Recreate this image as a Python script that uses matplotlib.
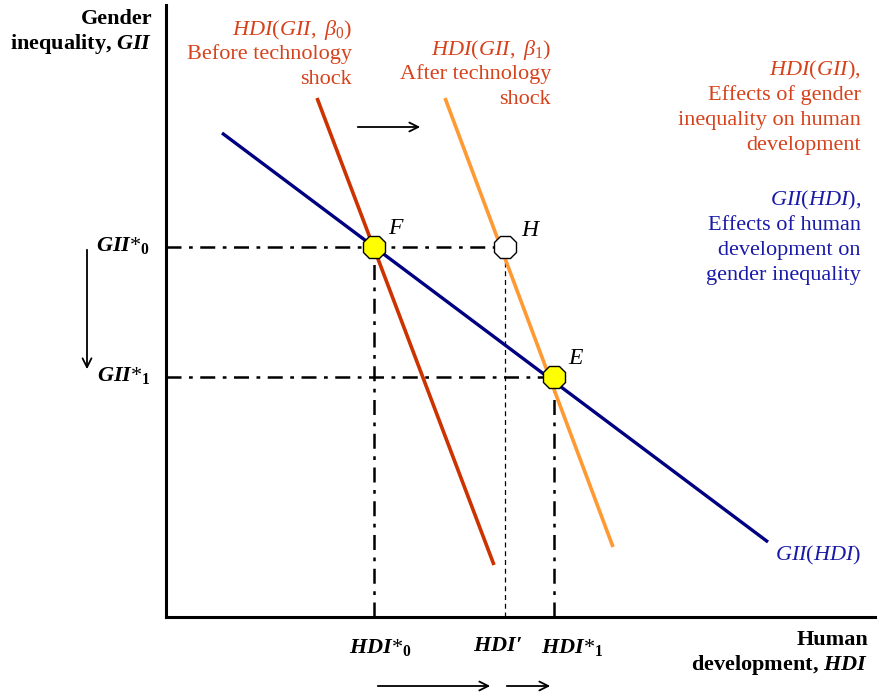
import matplotlib
matplotlib.use("Agg")
import matplotlib.pyplot as plt

# Fuentes: serif tipo libro para todo el diagrama
plt.rcParams["font.family"] = ["Liberation Serif", "DejaVu Serif"]
plt.rcParams["mathtext.fontset"] = "custom"
plt.rcParams["mathtext.rm"] = "Liberation Serif"
plt.rcParams["mathtext.it"] = "Liberation Serif:italic"
plt.rcParams["mathtext.bf"] = "Liberation Serif:bold"
plt.rcParams["mathtext.bfit"] = "Liberation Serif:bold:italic"

# Curvas (extremos en unidades del diagrama: origen en la esquina de los ejes)
gii_hdi_x = [56, 602]
gii_hdi_y = [484, 75]
hdi_b0_x = [151, 328]
hdi_b0_y = [519, 52]
hdi_b1_x = [279, 447]
hdi_b1_y = [519, 70]

# Equilibrios
F_pt = (208, 370)
H_pt = (339, 370)
E_pt = (388, 240)

# Textos de las curvas (una entrada por renglon)
txt_before = ["$\\mathit{HDI}(\\mathit{GII},\\ \\beta_0)$", "Before technology", "shock"]
txt_after = ["$\\mathit{HDI}(\\mathit{GII},\\ \\beta_1)$", "After technology", "shock"]
txt_hdi = ["$\\mathit{HDI}(\\mathit{GII})$,", "Effects of gender",
           "inequality on human", "development"]
txt_gii = ["$\\mathit{GII}(\\mathit{HDI})$,", "Effects of human",
           "development on", "gender inequality"]

RED = "#cc3300"
RED_TXT = "#d6421c"
ORANGE = "#ff9933"
BLUE = "#000080"
BLUE_TXT = "#1a1aa8"
YELLOW = "#ffff00"
DASHDOT = (0, (6, 3, 1.5, 3))

fig = plt.figure(figsize=(8.81, 6.98), dpi=100)
ax = fig.add_axes([166 / 881, 81 / 698, (875 - 166) / 881, (617 - 5) / 698])
ax.set_xlim(0, 709)
ax.set_ylim(0, 612)
for s in ["top", "right"]:
    ax.spines[s].set_visible(False)
for s in ["left", "bottom"]:
    ax.spines[s].set_linewidth(2.2)
ax.set_xticks([])
ax.set_yticks([])

# Lineas guia
ax.plot([0, H_pt[0]], [F_pt[1], F_pt[1]], color="black", lw=1.8, ls=DASHDOT)
ax.plot([0, E_pt[0]], [E_pt[1], E_pt[1]], color="black", lw=1.8, ls=DASHDOT)
ax.plot([F_pt[0], F_pt[0]], [0, F_pt[1]], color="black", lw=1.8, ls=DASHDOT)
ax.plot([E_pt[0], E_pt[0]], [0, E_pt[1]], color="black", lw=1.8, ls=DASHDOT)
ax.plot([H_pt[0], H_pt[0]], [0, H_pt[1]], color="black", lw=0.9, ls=(0, (4, 3)))

# Curvas
ax.plot(hdi_b0_x, hdi_b0_y, color=RED, lw=2.6, solid_capstyle="butt")
ax.plot(hdi_b1_x, hdi_b1_y, color=ORANGE, lw=2.6, solid_capstyle="butt")
ax.plot(gii_hdi_x, gii_hdi_y, color=BLUE, lw=2.4, solid_capstyle="butt")

# Puntos
ax.plot(*F_pt, marker="8", ms=17.5, mfc=YELLOW, mec="black", mew=1, zorder=5)
ax.plot(*E_pt, marker="8", ms=17.5, mfc=YELLOW, mec="black", mew=1, zorder=5)
ax.plot(*H_pt, marker="8", ms=17.5, mfc="white", mec="black", mew=1, zorder=5)
ax.text(F_pt[0] + 14, F_pt[1] + 8, "$F$", fontsize=17, ha="left", va="bottom")
ax.text(H_pt[0] + 16, H_pt[1] + 6, "$H$", fontsize=17, ha="left", va="bottom")
ax.text(E_pt[0] + 14, E_pt[1] + 8, "$E$", fontsize=17, ha="left", va="bottom")

# Flechas
arr = dict(arrowstyle="->", lw=1.3, color="black", mutation_scale=16)
ax.annotate("", xy=(257, 490), xytext=(189, 490), arrowprops=arr, annotation_clip=False)
ax.annotate("", xy=(-79, 245), xytext=(-79, 370), arrowprops=arr, annotation_clip=False)
ax.annotate("", xy=(327, -69), xytext=(209, -69), arrowprops=arr, annotation_clip=False)
ax.annotate("", xy=(387, -69), xytext=(338, -69), arrowprops=arr, annotation_clip=False)

kw = dict(clip_on=False, fontsize=16)


def bloque(x, y0, lineas, color, paso=25, **extra):
    # un renglon por texto, alineado a la derecha, lineas base separadas por `paso`
    for i, linea in enumerate(lineas):
        ax.text(x, y0 - i * paso, linea, ha="right", va="baseline", color=color,
                **kw, **extra)


# Etiquetas de ejes
bloque(-14, 593, ["Gender", "inequality, $\\mathbfit{GII}$"], "black", fontweight="bold")
bloque(702, -28, ["Human", "development, $\\mathbfit{HDI}$"], "black", fontweight="bold")

ax.text(-16, F_pt[1] + 2, "$\\mathbfit{GII}{*}_{\\mathbf{0}}$", ha="right", va="center", **kw)
ax.text(-16, E_pt[1] + 2, "$\\mathbfit{GII}{*}_{\\mathbf{1}}$", ha="right", va="center", **kw)
ax.text(F_pt[0] + 6, -20, "$\\mathbfit{HDI}{*}_{\\mathbf{0}}$", ha="center", va="top", **kw)
ax.text(H_pt[0] - 7, -20, "$\\mathbfit{HDI\\prime}$", ha="center", va="top", **kw)
ax.text(E_pt[0] + 18, -20, "$\\mathbfit{HDI}{*}_{\\mathbf{1}}$", ha="center", va="top", **kw)

# Textos de curvas
bloque(186, 582, txt_before, RED_TXT, paso=24.5)
bloque(385, 562, txt_after, RED_TXT, paso=24.5)
bloque(695, 542, txt_hdi, RED_TXT)
bloque(695, 412, txt_gii, BLUE_TXT)
ax.text(695, 62, "$\\mathit{GII}(\\mathit{HDI})$", ha="right", va="center",
        color=BLUE_TXT, **kw)

fig.savefig("out.png", dpi=100)
